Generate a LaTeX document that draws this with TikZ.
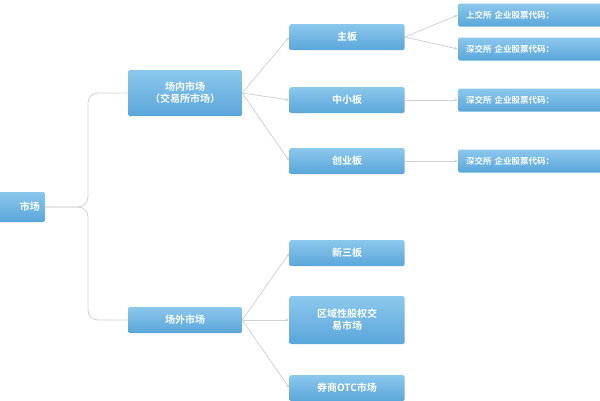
\documentclass[tikz,border=0pt]{standalone}
\usepackage{fontspec}
\newfontfamily\cjk{Noto Sans CJK SC}[BoldFont=* Bold]
\usetikzlibrary{arrows.meta}
\begin{document}
\begin{tikzpicture}[x=1pt,y=-1pt,
  bx/.style={rectangle,rounded corners=1.5pt,top color=blue!20!cyan!45!white!90!black,bottom color=blue!35!cyan!60!gray!90!white,
    text=white,font=\cjk\bfseries\fontsize{10}{12}\selectfont,inner sep=0pt,align=center,
    drop shadow/.style={}},
  con/.style={draw=gray!35,line width=0.8pt},
  arr/.style={con,-{Stealth[length=4pt,width=3pt]}}]
\definecolor{bxa}{HTML}{8CC8EC}\definecolor{bxb}{HTML}{5AA6DA}
\tikzset{bx/.append style={top color=bxa,bottom color=bxb}}
\useasboundingbox (0,0) rectangle (600,400);
\begin{scope}
\clip (0,0) rectangle (600,400);
\node[bx,minimum width=90,minimum height=30,anchor=east,align=right,text width=80] (root) at (45,207) {市场};
\node[bx,minimum width=114,minimum height=46] (a) at (185,93) {场内市场\\（交易所市场）};
\node[bx,minimum width=114,minimum height=26] (b) at (185,320) {场外市场};
\node[bx,minimum width=115,minimum height=26] (z) at (347,37) {主板};
\node[bx,minimum width=115,minimum height=26] (m) at (347,100) {中小板};
\node[bx,minimum width=115,minimum height=26] (c) at (347,161) {创业板};
\node[bx,minimum width=115,minimum height=26] (x) at (347,253) {新三板};
\node[bx,minimum width=115,minimum height=48] (q) at (347,320) {区域性股权交\\易市场};
\node[bx,minimum width=115,minimum height=26] (o) at (347,388) {券商OTC市场};
\tikzset{rb/.style={bx,minimum width=160,minimum height=23,anchor=west,text width=150,align=left,font=\cjk\bfseries\fontsize{8.5}{10}\selectfont}}
\node[rb] (r1) at (458,15) {\hspace*{3pt}上交所 企业股票代码：};
\node[rb] (r2) at (458,49) {\hspace*{3pt}深交所 企业股票代码：};
\node[rb] (r3) at (458,100) {\hspace*{3pt}深交所 企业股票代码：};
\node[rb] (r4) at (458,161) {\hspace*{3pt}深交所 企业股票代码：};
\draw[con,rounded corners=10pt] (root.east) -- (88,207) |- (a.west);
\draw[con,rounded corners=10pt] (root.east) -- (88,207) |- (b.west);
\foreach \t in {z,m,c} \draw[arr] (a.east) -- (\t.west);
\foreach \t in {x,q,o} \draw[arr] (b.east) -- (\t.west);
\draw[arr] (z.east) -- (r1.west);
\draw[arr] (z.east) -- (r2.west);
\draw[arr] (m.east) -- (r3.west);
\draw[arr] (c.east) -- (r4.west);
\end{scope}
\end{tikzpicture}
\end{document}
